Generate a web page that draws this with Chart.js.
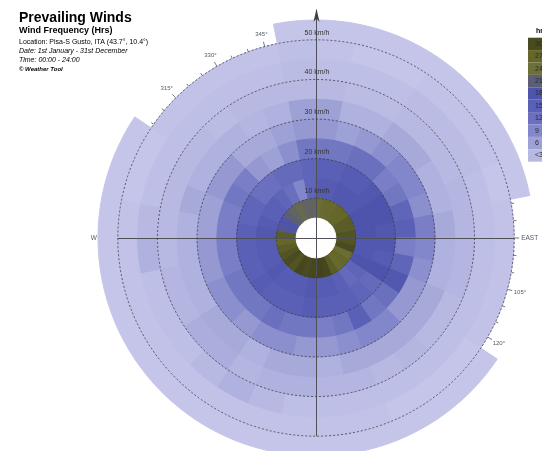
<!DOCTYPE html>
<html>
<head>
<meta charset="utf-8">
<title>Prevailing Winds</title>
<script src="https://cdn.jsdelivr.net/npm/chart.js@4.4.0/dist/chart.umd.min.js"></script>
<style>
  html, body { margin: 0; padding: 0; background: #fff; overflow: hidden; }
  #wrap { position: relative; width: 542px; height: 451px; overflow: hidden; }
  #rose { position: absolute; left: 0; top: 0; }
</style>
</head>
<body>
<div id="wrap">
  <canvas id="rose" width="542" height="480"></canvas>
</div>
<script>
// 32 direction sectors of 11.25 degrees, starting at north and going clockwise
const sectors = ['N', 'NbE', 'NNE', 'NEbN', 'NE', 'NEbE', 'ENE', 'EbN',
                 'E', 'EbS', 'ESE', 'SEbE', 'SE', 'SEbS', 'SSE', 'SbE',
                 'S', 'SbW', 'SSW', 'SWbS', 'SW', 'SWbW', 'WSW', 'WbS',
                 'W', 'WbN', 'WNW', 'NWbW', 'NW', 'NWbN', 'NNW', 'NbW'];

// speed band edges in km/h (below the first edge counts as calm)
const speedEdges = [5, 10, 15, 20, 25, 30, 35, 40, 45, 50, 55];

// hours per year in each sector, one array per speed band (null = no wind recorded)
const hrs05to10 = [25, 26, 26, 27, 27, 28, 28, 29, 29, 30, 25, 27, 26, 28, 31, 32, 31, 30, 31, 29, 30, 29, 28, 27, 28, 19, 18, 21, 22, 23, 22, 22];
const hrs10to15 = [16, 16, 17, 17, 17, 18, 18, 18, 17, 17, 18, 14, 13, 15, 16, 16, 17, 16, 16, 16, 17, 16, 16, 16, 17, 16, 15, 15, 14, 12, 9, 14];
const hrs15to20 = [15, 15, 16, 16, 17, 18, 18, 17, 17, 16, 18, 13, 14, 15, 15, 15, 16, 15, 15, 15, 16, 15, 15, 15, 15, 14, 14, 12, 12, 13, 13, 14];
const hrs20to25 = [11, 11, 12, 12, 10, 11, 14, 15, 10, 14, 17, 12, 11, 15, 11, 10, 11, 11, 12, 11, 11, 11, 10, 10, 10, 10, 11, 10, 7, 6, 8, 11];
const hrs25to30 = [7, 6, 7, 8, 9, 9, 8, 10, 9, 8, 7, 7, 9, 9, 8, 7, 7, 8, 8, 7, 8, 8, 7, 7, 6, 6, 7, 7, 5, 5, 6, 7];
const hrs30to35 = [6, 4, 4, 5, 5, 4, 4, 5, 4, 4, 5, 5, 5, 5, 5, 4, 5, 5, 4, 5, 5, 4, 4, 4, 4, 5, 4, 4, 4, 3.5, 4, 6];
const hrs35to40 = [3, 2.5, 2.5, 3, 3, 3, 3.5, 3.5, 3.5, 3.5, 3, 3, 3.5, 3, 3.5, 3.5, 4, 4, 3.5, 4.5, 4.5, 3.5, 3.5, 3, 3, 3, 3, 3, 2.5, 3, 3, 3];
const hrs40to45 = [2, 2, 2, 2.5, 2.5, 2.5, 2, 2, 2, 2, 2, 2, 2, 2, 2, 2, 2, 3, 4, 3, 2, 2, 2, 4, 3, 2, 2, 2, 2, 2, 2, 2.5];
const hrs45to50 = [1.5, 1, 1, 1.5, 1.5, 1.5, 1, 1.5, 1.5, 1.5, 1.5, 1, 1, 1, 1.5, 1.5, 1.5, 1.5, 1.5, 1.5, 1.5, 1.5, 1.5, 1.5, 1.5, 1, 1, 1.5, 1.5, 1.5, 1.5, 2];
const hrs50to55 = [1, 1, 1, 1, 1, 1, 1, null, null, null, null, 1, 1, 1, 1, 1, 1, 1, 1, 1, 1, 1, 1, 1, 1, 1, 1, null, null, null, null, 1];

// rings labelled on the north axis
const speedTicks = [10, 20, 30, 40, 50];
// compass degrees with a printed label
const degreeMarks = [15, 30, 45, 60, 75, 105, 120, 135, 150, 165, 195, 210, 225, 240, 255, 285, 300, 315, 330, 345];
// colour key
const keyValues = [30, 27, 24, 21, 18, 15, 12, 9, 6, 3];
const keyLabels = ['30', '27', '24', '21', '18', '15', '12', '9', '6', '<3'];

const bands = [hrs05to10, hrs10to15, hrs15to20, hrs20to25, hrs25to30,
               hrs30to35, hrs35to40, hrs40to45, hrs45to50, hrs50to55];

// hours -> colour, pale lavender through blue to olive
const colourStops = [
  [0, [203, 203, 237]], [3, [184, 185, 226]], [6, [158, 161, 213]], [9, [130, 134, 202]],
  [12, [106, 111, 190]], [15, [90, 96, 182]], [18, [78, 84, 172]], [21, [92, 94, 118]],
  [24, [110, 112, 58]], [27, [100, 102, 42]], [30, [74, 75, 32]], [33, [64, 64, 26]]
];
function colourFor(h) {
  if (h <= colourStops[0][0]) return 'rgb(' + colourStops[0][1].join(',') + ')';
  for (let i = 1; i < colourStops.length; i++) {
    const [v1, c1] = colourStops[i];
    const [v0, c0] = colourStops[i - 1];
    if (h <= v1) {
      const t = (h - v0) / (v1 - v0);
      const c = c0.map((x, j) => Math.round(x + (c1[j] - x) * t));
      return 'rgb(' + c.join(',') + ')';
    }
  }
  return 'rgb(' + colourStops[colourStops.length - 1][1].join(',') + ')';
}

// dataset 0 is drawn last, so the calm hole goes first and the outer band last
const datasets = [{
  data: sectors.map(() => speedEdges[0]),
  backgroundColor: '#ffffff',
  borderColor: '#ffffff',
  borderWidth: 1,
  clip: false
}];
bands.forEach((hrs, i) => {
  const colours = hrs.map(h => h == null ? 'rgba(0,0,0,0)' : colourFor(h));
  datasets.push({
    data: hrs.map(h => h == null ? 0 : speedEdges[i + 1]),
    backgroundColor: colours,
    borderColor: colours,
    borderWidth: 1,
    clip: false
  });
});

const deg = a => a * Math.PI / 180;

const roseDecor = {
  id: 'roseDecor',
  beforeDatasetsDraw(chart) {
    // compass ticks on the 50 km/h ring, mostly hidden under the rose
    const s = chart.scales.r, ctx = chart.ctx;
    const cx = s.xCenter, cy = s.yCenter;
    const rim = s.getDistanceFromCenterForValue(50);
    ctx.save();
    ctx.strokeStyle = '#555';
    ctx.lineWidth = 0.8;
    for (let a = 0; a < 360; a += 5) {
      const len = a % 15 === 0 ? 5 : 3;
      ctx.beginPath();
      ctx.moveTo(cx + rim * Math.sin(deg(a)), cy - rim * Math.cos(deg(a)));
      ctx.lineTo(cx + (rim + len) * Math.sin(deg(a)), cy - (rim + len) * Math.cos(deg(a)));
      ctx.stroke();
    }
    ctx.fillStyle = '#4f5b6b';
    ctx.font = '6px "Liberation Sans", Arial, sans-serif';
    ctx.textAlign = 'center';
    ctx.textBaseline = 'middle';
    degreeMarks.forEach(a => {
      ctx.fillText(a + '°', cx + (rim + 13) * Math.sin(deg(a)), cy - (rim + 13) * Math.cos(deg(a)));
    });
    ctx.restore();
  },
  afterDatasetsDraw(chart) {
    // cross hairs out to 50 km/h and the north arrow
    const s = chart.scales.r, ctx = chart.ctx;
    const cx = s.xCenter, cy = s.yCenter;
    const rim = s.getDistanceFromCenterForValue(50);
    ctx.save();
    ctx.strokeStyle = '#505058';
    ctx.lineWidth = 1;
    ctx.beginPath();
    ctx.moveTo(cx - rim, cy + 0.5);
    ctx.lineTo(cx + rim, cy + 0.5);
    ctx.moveTo(cx + 0.5, cy + rim);
    ctx.lineTo(cx + 0.5, cy - rim - 30);
    ctx.stroke();
    ctx.fillStyle = '#404048';
    ctx.beginPath();
    ctx.moveTo(cx + 0.5, cy - rim - 31);
    ctx.lineTo(cx + 3.5, cy - rim - 18);
    ctx.lineTo(cx + 0.5, cy - rim - 21);
    ctx.lineTo(cx - 2.5, cy - rim - 18);
    ctx.closePath();
    ctx.fill();
    ctx.restore();
  },
  afterDraw(chart) {
    const s = chart.scales.r, ctx = chart.ctx;
    const cx = s.xCenter, cy = s.yCenter;
    const rim = s.getDistanceFromCenterForValue(50);
    const face = '"Liberation Sans", Arial, sans-serif';
    ctx.save();

    // speed labels along the north axis
    ctx.fillStyle = '#333';
    ctx.font = '7px ' + face;
    ctx.textAlign = 'center';
    ctx.textBaseline = 'middle';
    speedTicks.forEach(v => {
      ctx.fillText(v + ' km/h', cx + 1, cy - s.getDistanceFromCenterForValue(v) - 7);
    });

    // cardinal labels
    ctx.fillStyle = '#4f5b6b';
    ctx.font = '6.5px ' + face;
    ctx.textAlign = 'right';
    ctx.fillText('W', cx - rim - 21, cy);
    ctx.textAlign = 'left';
    ctx.fillText('EAST', cx + rim + 7, cy);

    // heading block
    ctx.fillStyle = '#000';
    ctx.textAlign = 'left';
    ctx.textBaseline = 'alphabetic';
    ctx.font = 'bold 14px ' + face;
    ctx.fillText('Prevailing Winds', 19, 22);
    ctx.font = 'bold 9px ' + face;
    ctx.fillText('Wind Frequency (Hrs)', 19, 33);
    ctx.font = '7px ' + face;
    ctx.fillText('Location: Pisa-S Gusto, ITA (43.7°, 10.4°)', 19, 44);
    ctx.font = 'italic 7px ' + face;
    ctx.fillText('Date: 1st January - 31st December', 19, 53);
    ctx.fillText('Time: 00:00 - 24:00', 19, 62);
    ctx.font = 'italic bold 6px ' + face;
    ctx.fillText('© Weather Tool', 19, 70.5);

    // colour key
    const kx = 528, ky = 37.7, kh = 12.4, kw = 30;
    ctx.font = 'bold 7px ' + face;
    ctx.fillText('hrs', 536, 33);
    keyValues.forEach((v, i) => {
      ctx.fillStyle = colourFor(v);
      ctx.fillRect(kx, ky + i * kh, kw, kh);
    });
    ctx.font = '7px ' + face;
    ctx.textAlign = 'left';
    ctx.textBaseline = 'middle';
    ctx.fillStyle = '#2a2a30';
    keyLabels.forEach((t, i) => ctx.fillText(t, kx + 7, ky + i * kh + kh / 2));
    ctx.restore();
  }
};

new Chart(document.getElementById('rose'), {
  type: 'polarArea',
  data: { labels: sectors, datasets: datasets },
  options: {
    responsive: false,
    animation: false,
    layout: { padding: { left: 98, right: 8, top: 20, bottom: 24 } },
    plugins: {
      legend: { display: false },
      tooltip: { enabled: false }
    },
    scales: {
      r: {
        min: 0,
        max: 55,
        startAngle: 0,
        ticks: { display: false, stepSize: 10 },
        grid: {
          z: 1,
          circular: true,
          color: c => speedTicks.includes(c.tick && c.tick.value) ? '#3c3c44' : 'rgba(0,0,0,0)',
          lineWidth: 0.8
        },
        border: { dash: [2, 2] },
        angleLines: { display: false },
        pointLabels: { display: false }
      }
    }
  },
  plugins: [roseDecor]
});
</script>
</body>
</html>
